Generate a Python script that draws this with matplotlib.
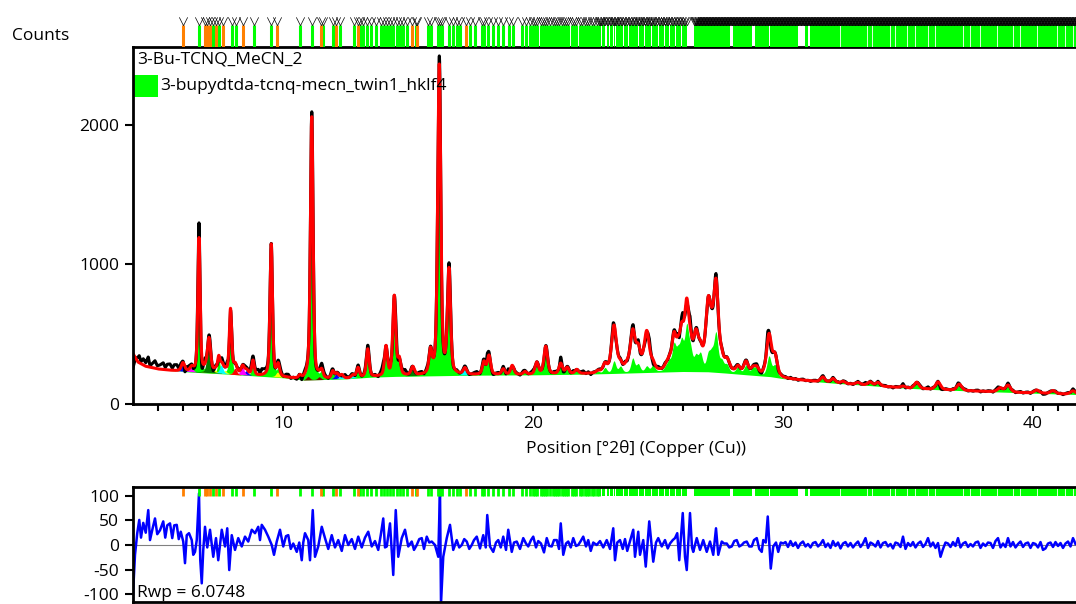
import numpy as np
import matplotlib
matplotlib.use("Agg")
import matplotlib.pyplot as plt
from matplotlib.path import Path
from matplotlib.patches import Rectangle
from matplotlib.transforms import blended_transform_factory

plt.rcParams['font.family'] = ['Open Sans', 'DejaVu Sans']
FS = 12.5

# background (counts) read along the bottom of the pattern
bg_pos = [4.0, 4.2, 4.5, 5.0, 5.5, 6.0, 7.0, 8.0, 9.0, 10.0, 10.8, 11.5, 12.5, 13.5, 14.5,
          16.0, 17.0, 18.0, 20.0, 22.0, 23.0, 24.0, 25.0, 26.0, 27.0, 27.7, 28.5, 29.5,
          30.0, 31.0, 32.0, 33.0, 34.0, 35.0, 36.0, 37.0, 38.0, 39.0, 40.0, 41.0, 42.0, 45.0]
bg_val = [360, 300, 270, 250, 240, 232, 222, 212, 200, 188, 172, 175, 180, 192, 198,
          202, 205, 207, 209, 214, 218, 223, 228, 233, 231, 222, 210, 196,
          182, 165, 150, 138, 125, 113, 104, 97, 90, 84, 78, 72, 67, 55]

# main phase (green) reflections: position (deg 2theta), height above background
green_pos = [6.64, 7.04, 7.43, 7.90, 8.80, 9.53, 9.81, 10.68, 11.15, 11.55, 11.99, 13.00,
             13.39, 14.12, 14.45, 14.65, 15.90, 16.25, 16.64, 18.04, 18.24, 18.81, 19.17,
             19.68, 20.15, 20.51, 21.11, 21.37, 21.75, 22.60, 22.88, 23.24, 23.50, 23.99,
             24.21, 24.55, 24.80, 25.32, 25.45, 25.64, 25.80, 25.95, 26.15, 26.30, 26.52,
             26.70, 27.01, 27.15, 27.32, 27.55, 27.75, 28.20, 28.52, 28.80, 28.95, 29.44,
             29.68, 31.59, 32.00, 32.40, 33.00, 33.48, 33.80, 34.80, 35.35, 36.20, 37.05,
             38.68, 39.00, 40.15, 40.80, 41.60]
green_h = [960, 40, 100, 460, 105, 950, 50, 20, 1880, 50, 50, 70,
           200, 210, 570, 110, 160, 2220, 740, 90, 135, 40, 65,
           20, 85, 180, 75, 45, 30, 15, 40, 85, 45, 100,
           55, 40, 45, 25, 55, 170, 110, 180, 290, 120, 90,
           110, 100, 100, 260, 70, 50, 45, 60, 40, 45, 140,
           80, 35, 30, 15, 15, 25, 25, 12, 45, 55, 45,
           28, 50, 22, 22, 25]

# contribution of the other (unfilled) phases
extra_pos = [20.51, 22.88, 23.24, 23.75, 23.99, 24.21, 24.55, 25.64, 25.95, 26.15, 26.52,
             27.01, 27.32, 27.81, 28.52, 29.44, 29.68]
extra_h = [20, 20, 250, 40, 175, 90, 240, 60, 60, 150, 150, 360, 350, 30, 25, 150, 60]

# small coloured phases at low angle
small_phases = {
    "#0000ff": ([6.00, 8.55, 12.15], [60, 30, 35]),
    "#ff00ff": ([6.35, 8.39], [30, 60]),
    "#ffff00": ([6.90, 7.30, 7.70, 8.10, 9.80], [20, 20, 20, 20, 35]),
    "#00ffff": ([7.55, 12.35, 12.80, 17.28], [60, 25, 20, 45]),
    "#008000": ([7.04, 15.19], [200, 60]),
    "#ff0000": ([8.08], [45]),
    "#800000": ([11.00, 11.45], [25, 20]),
}

# difference curve (obs - calc)
diff_pos = [4.00, 4.08, 4.17, 4.25, 4.32, 4.41, 4.51, 4.61, 4.68, 4.79, 4.88, 4.97, 5.08, 5.21,
            5.29, 5.37, 5.48, 5.57, 5.65, 5.75, 5.83, 5.91, 6.01, 6.08, 6.15, 6.24, 6.35, 6.41,
            6.48, 6.55, 6.64, 6.69, 6.75, 6.81, 6.88, 6.97, 7.08, 7.21, 7.32, 7.41, 7.55, 7.68,
            7.77, 7.85, 7.95, 8.08, 8.21, 8.35, 8.48, 8.61, 8.75, 8.88, 9.01, 9.08, 9.15, 9.28,
            9.41, 9.55, 9.64, 9.75, 9.88, 10.01, 10.12, 10.21, 10.31, 10.41, 10.55, 10.65,
            10.75, 10.81, 10.88, 11.01, 11.08, 11.19, 11.28, 11.41, 11.55, 11.68, 11.81, 11.95,
            12.08, 12.21, 12.35, 12.48, 12.61, 12.75, 12.88, 13.01, 13.15, 13.28, 13.41, 13.55,
            13.68, 13.81, 13.91, 14.01, 14.08, 14.15, 14.28, 14.41, 14.51, 14.61, 14.75, 14.88,
            15.01, 15.15, 15.24, 15.35, 15.45, 15.55, 15.64, 15.75, 15.85, 15.95, 16.08, 16.21,
            16.28, 16.32, 16.41, 16.55, 16.68, 16.81, 16.95, 17.05, 17.15, 17.25, 17.35, 17.45,
            17.55, 17.64, 17.75, 17.88, 18.01, 18.11, 18.17, 18.28, 18.41, 18.52, 18.61, 18.71,
            18.81, 18.92, 19.01, 19.15, 19.24, 19.35, 19.48, 19.61, 19.72, 19.81, 19.92, 20.01,
            20.12, 20.21, 20.32, 20.44, 20.55, 20.65, 20.75, 20.84, 20.95, 21.04, 21.11, 21.21,
            21.32, 21.41, 21.51, 21.61, 21.72, 21.81, 21.91, 22.01, 22.12, 22.21, 22.31, 22.41,
            22.55, 22.68, 22.81, 22.95, 23.08, 23.21, 23.28, 23.37, 23.48, 23.59, 23.68, 23.77,
            23.88, 24.01, 24.08, 24.21, 24.28, 24.41, 24.51, 24.65, 24.81, 24.92, 25.01, 25.15,
            25.28, 25.39, 25.48, 25.59, 25.68, 25.77, 25.85, 25.99, 26.08, 26.15, 26.28, 26.36,
            26.41, 26.55, 26.68, 26.81, 26.95, 27.08, 27.21, 27.32, 27.41, 27.55, 27.64, 27.75,
            27.85, 27.95, 28.05, 28.15, 28.25, 28.35, 28.44, 28.55, 28.65, 28.75, 28.84, 28.95,
            29.05, 29.15, 29.21, 29.31, 29.39, 29.51, 29.61, 29.72, 29.81, 29.91, 30.01]
diff_val = [-100, -20, 24, 51, 15, 45, 25, 71, 10, 35, 54, 22, 30, 48,
            15, 40, 44, 14, 40, 41, 12, 27, 7, -37, 20, 24, 10, -20,
            -14, 10, 105, -30, -78, -10, 37, -5, 31, -24, 14, -31, 31, -3,
            34, -51, 20, -10, 14, -3, 17, 7, 31, 24, 37, 10, 41, 31,
            17, 0, -20, 7, 31, -3, 18, 20, -8, 3, -14, 5,
            -31, 5, 24, 10, -31, 71, -24, -3, 37, 14, -8, 20,
            -5, 10, -12, 20, 0, 12, -8, 17, -5, 15, 27, -3,
            8, -10, 20, 54, -5, -3, 44, -61, 71, -24, 14, 31,
            -3, 7, -10, 0, 12, 14, -8, 17, 5, 7, 0, -24,
            112, -119, -24, 14, 41, -10, 10, -5, 0, 12, 7, -8,
            0, 10, 17, -7, 20, -5, 61, -3, -14, 5, 10, -5,
            17, -10, 31, -14, 5, 7, -8, 14, 3, -3, 10, 17,
            -5, 8, 3, -15, 14, -2, -3, 10, 10, -8, 44, -20,
            3, 7, -5, 14, -2, 0, 8, 17, -3, 10, -12, 5,
            0, 8, -5, 10, -8, 34, -31, 5, 10, -8, 12, -12,
            8, 31, -24, 27, -20, 10, -44, 48, -34, 5, 14, -3,
            10, -7, 3, 10, 14, 24, -31, 65, -24, -51, 65, -5,
            -14, 14, -10, 10, -14, 7, -20, 34, -20, 7, 3, 3,
            -5, -3, 8, 10, -3, 0, 5, 7, -3, -3, 10, 14,
            -8, -14, 10, 5, 58, -48, -3, 5, -14, 5, 3]
# above 30 deg the difference is read every 0.1 deg
diff_tail = [6, -4, 8, -2, 5, -6, 3, 7, -3, 2,
             -5, 4, 6, -3, 2, 10, -4, 3, -6, 8,
             -2, 5, -7, 3, 6, -3, 4, -5, 2, 7,
             -4, 3, 14, -6, 5, 2, -3, 8, -5, 4,
             6, -3, 2, -7, 5, 3, -4, 17, -8, 4,
             -2, 6, -5, 3, 7, -4, 2, 14, -3, 5,
             -6, 4, -24, -8, 5, 3, -4, 6, -2, 14,
             -5, 3, 6, -4, 2, -3, 5, 7, -6, 3,
             -2, 5, 4, -6, 8, 14, -5, 3, -4, 14,
             -3, 6, -5, 2, 7, -4, 3, 5, -6, 4,
             2, -5, 6, -10, -7, 3, 5, -4, 6, -2,
             4, -6, 3, 7, -3, 14, 2]

# reflection markers
orange_ticks = [6.01, 6.88, 6.97, 7.08, 7.32, 7.59, 8.39, 9.75, 11.52, 12.12, 12.99,
                15.15, 15.35, 17.32]
green_ticks = [6.64, 7.19, 7.45, 7.95, 8.12, 8.84, 9.52, 10.68, 11.15, 11.61, 11.99, 12.28,
               12.84, 13.08, 13.21, 13.37, 13.51, 13.72, 13.91, 14.04, 14.15, 14.28, 14.41,
               14.55, 14.68, 14.81, 14.97, 15.31, 15.81, 15.92, 16.21, 16.28, 16.35, 16.65,
               16.81, 16.95, 17.08, 17.48, 17.68, 17.95, 18.04, 18.21, 18.41, 18.61, 18.81,
               19.05, 19.19, 19.55, 19.72, 19.88, 20.01, 20.08, 20.15, 20.31, 20.39, 20.48,
               20.55, 20.68, 20.79, 20.88, 20.97, 21.05, 21.15, 21.24, 21.32, 21.41, 21.55,
               21.65, 21.72, 21.88, 21.98, 22.08, 22.15, 22.25, 22.35, 22.45, 22.55, 22.62]
green_spans = [(22.68, 22.73), (22.77, 22.90), (22.94, 23.03), (23.07, 23.19), (23.23, 23.30),
               (23.34, 23.59), (23.63, 23.79), (23.83, 24.19), (24.23, 24.46), (24.50, 24.73),
               (24.77, 24.99), (25.03, 25.26), (25.30, 25.46), (25.50, 25.70), (25.74, 25.93),
               (25.97, 26.17), (26.44, 27.88), (28.01, 28.75), (28.88, 29.46), (29.50, 30.61),
               (30.88, 31.02), (31.08, 44.5)]
thin_gaps = [32.28, 33.35, 33.55, 34.28, 34.48, 34.95, 35.28, 35.81, 36.08, 37.21, 37.48,
             37.88, 38.55, 39.21, 39.48, 40.15, 40.95, 41.28, 41.61]
DENSE_FROM = 26.44  # marker band turns solid black from here

SAMPLE = "3-Bu-TCNQ_MeCN_2"
PHASE = "3-bupydtda-tcnq-mecn_twin1_hklf4"
RWP = "Rwp = 6.0748"


def pv(x, pos, h, fwhm, eta=0.45):
    d = (x - pos) / (fwhm / 2.0)
    return h * (eta / (1 + d * d) + (1 - eta) * np.exp(-np.log(2) * d * d))


def phase(x, positions, heights, fwhm=None):
    y = np.zeros_like(x)
    for p, h in zip(positions, heights):
        w = fwhm if fwhm else 0.08 + 0.004 * p
        y += pv(x, p, h, w)
    return y


def main():
    x = np.arange(4.0, 44.3, 0.004)
    bg = np.interp(x, bg_pos, bg_val)
    g = phase(x, green_pos, green_h)
    extra = phase(x, extra_pos, extra_h, fwhm=0.26)
    smalls = {c: phase(x, p, h, fwhm=0.16) for c, (p, h) in small_phases.items()}
    calc = bg + g + extra + sum(smalls.values())

    dpos = np.array(diff_pos + list(np.round(np.arange(30.1, 41.75, 0.1), 2)))
    dval = np.array(diff_val + diff_tail, dtype=float)
    obs = calc + np.interp(x, dpos, dval)

    fig = plt.figure(figsize=(10.76, 6.04), dpi=100)
    W, H = 1076.0, 604.0
    left = 133 / W
    width = (1139 - 133) / W

    # main pattern
    ax = fig.add_axes([left, (H - 404) / H, width, 357 / H])
    ax.fill_between(x, bg, bg + g, color="#00ff00", lw=0)
    for c, y in smalls.items():
        ax.fill_between(x, bg, bg + y, where=y > 2, color=c, lw=0)
    ax.plot(x, obs, color="black", lw=2.2)
    ax.plot(x, calc, color="#ff0000", lw=2.2)
    ax.set_xlim(4.0, 44.24)
    ax.set_ylim(0, 2559)
    ax.set_xticks([10, 20, 30, 40])
    ax.set_xticks(np.arange(5, 44), minor=True)
    ax.set_yticks([0, 1000, 2000])
    ax.tick_params(axis="both", which="both", direction="out", length=5, width=1.5,
                   labelsize=FS, color="black")
    ax.tick_params(axis="y", length=6, pad=4)
    for s in ["left", "bottom", "top"]:
        ax.spines[s].set_linewidth(2)
    ax.spines["right"].set_visible(False)
    ax.set_xlabel("Position [°2θ] (Copper (Cu))", fontsize=FS)
    ax.xaxis.set_label_coords(0.5, -0.1)
    ax.text(0.004, (404 - 60) / 357, SAMPLE, transform=ax.transAxes, fontsize=FS,
            va="center", ha="left")
    ax.add_patch(Rectangle((0.0, (404 - 97) / 357), 25 / 1006, 22 / 357,
                           transform=ax.transAxes, color="#00ff00", lw=0))
    ax.text(27 / 1006, (404 - 86) / 357, PHASE, transform=ax.transAxes, fontsize=FS,
            va="center", ha="left")
    fig.text(12 / W, 1 - 36 / H, "Counts", fontsize=FS, va="center", ha="left")

    # reflection markers above the pattern
    vmark = Path([(-1, 1), (0, -1), (1, 1)], [Path.MOVETO, Path.LINETO, Path.LINETO])
    axt = fig.add_axes([left, (H - 47) / H, width, 33 / H], sharex=ax)
    axt.axis("off")
    axt.set_ylim(0, 1)
    axt.vlines(green_ticks, 0, 0.67, color="#00ff00", lw=2.2)
    axt.vlines(orange_ticks, 0, 0.67, color="#ff8000", lw=2.2)
    for a, b in green_spans:
        axt.axvspan(a, b, 0, 0.67, color="#00ff00", lw=0)
    axt.vlines(thin_gaps, 0, 0.67, color="white", lw=0.6)
    vx = list(green_ticks) + list(orange_ticks)
    for a, b in green_spans:
        if b <= DENSE_FROM:
            vx += list(np.arange(a, b + 0.01, 0.06))
    vx += list(np.arange(DENSE_FROM, green_spans[-1][1], 0.03))
    axt.plot(vx, np.full(len(vx), 0.8), ls="none", marker=vmark, ms=6, mew=0.5,
             mfc="none", mec="black")

    # difference plot
    axd = fig.add_axes([left, (H - 602) / H, width, 115 / H], sharex=ax)
    axd.axhline(0, color="#808080", lw=0.8)
    axd.plot(dpos, dval, color="#0000ff", lw=1.8)
    axd.set_ylim(-116, 118)
    axd.set_yticks([100, 50, 0, -50, -100])
    axd.set_yticklabels(["100", "50", "0", "-50", "-100"])
    axd.tick_params(axis="y", direction="out", length=6, width=1.5, labelsize=FS, pad=4)
    axd.tick_params(axis="x", which="both", bottom=False, labelbottom=False)
    for s in ["left", "bottom", "top"]:
        axd.spines[s].set_linewidth(2)
    axd.spines["right"].set_visible(False)
    tr = blended_transform_factory(axd.transData, axd.transAxes)
    axd.vlines(green_ticks, 0.92, 0.99, color="#00ff00", lw=2, transform=tr)
    axd.vlines(orange_ticks, 0.92, 0.99, color="#ff8000", lw=2, transform=tr)
    for a, b in green_spans:
        axd.axvspan(a, b, 0.92, 0.99, color="#00ff00", lw=0)
    axd.vlines(thin_gaps, 0.92, 0.99, color="white", lw=0.6, transform=tr)
    axd.text(0.004, (602 - 593) / 115, RWP, transform=axd.transAxes, fontsize=FS,
             va="center", ha="left")

    fig.savefig("out.png", dpi=100)


if __name__ == "__main__":
    main()
